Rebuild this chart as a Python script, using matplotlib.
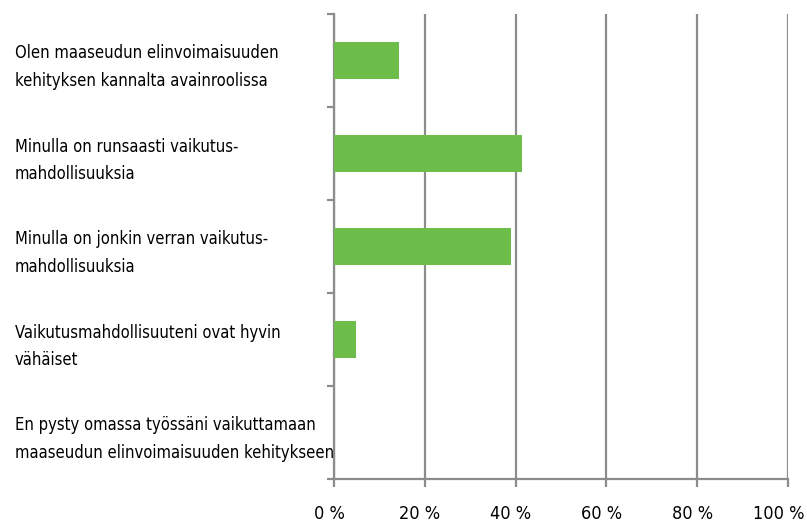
import matplotlib
matplotlib.use("Agg")
import matplotlib.pyplot as plt
import matplotlib.transforms as mtransforms
import numpy as np

categories = [
    "Olen maaseudun elinvoimaisuuden\nkehityksen kannalta avainroolissa",
    "Minulla on runsaasti vaikutus-\nmahdollisuuksia",
    "Minulla on jonkin verran vaikutus-\nmahdollisuuksia",
    "Vaikutusmahdollisuuteni ovat hyvin\nvähäiset",
    "En pysty omassa työssäni vaikuttamaan\nmaaseudun elinvoimaisuuden kehitykseen",
]
values = [14.3, 41.3, 39.0, 4.9, 0.0]
xticks = [0, 20, 40, 60, 80, 100]
xticklabels = ["0 %", "20 %", "40 %", "60 %", "80 %", "100 %"]

plt.rcParams['font.family'] = ['DejaVu Sans']
plt.rcParams['font.stretch'] = 'condensed'

W, H = 807, 524
fig = plt.figure(figsize=(W/100, H/100), dpi=100)
ax = fig.add_axes([334/W, 1-479/H, (788-334)/W, (479-14)/H])

gray = "#8c8c8c"
green = "#6cbd4a"
pos = np.arange(len(categories)) + 0.5
ax.barh(pos, values, height=0.39, color=green, zorder=3)

ax.set_xlim(0, 100)
ax.set_ylim(len(categories), 0)
ax.set_xticks(xticks)
ax.set_xticklabels(xticklabels, fontsize=13)
ax.xaxis.grid(True, color=gray, linewidth=1.6, zorder=0)
ax.tick_params(axis='x', length=6, width=1.6, color=gray, pad=13)
for i, lab in enumerate(ax.get_xticklabels()):
    dx = -9 if i == len(xticks) - 1 else -5
    lab.set_transform(lab.get_transform() +
                      mtransforms.ScaledTranslation(dx/100, 0, fig.dpi_scale_trans))

ax.set_yticks(pos)
ax.set_yticklabels(categories, fontsize=12, ha='left')
ax.tick_params(axis='y', which='major', length=0, pad=(334-15)*0.72)
for lab in ax.get_yticklabels():
    lab.set_linespacing(1.7)
    lab.set_fontsize(11.9)
ax.set_yticks(np.arange(len(categories)+1), minor=True)
ax.tick_params(axis='y', which='minor', length=5, width=1.6, color=gray)

for s in ['top', 'right']:
    ax.spines[s].set_visible(False)
for s in ['left', 'bottom']:
    ax.spines[s].set_color(gray)
    ax.spines[s].set_linewidth(1.6)

fig.savefig("out.png", dpi=100)
